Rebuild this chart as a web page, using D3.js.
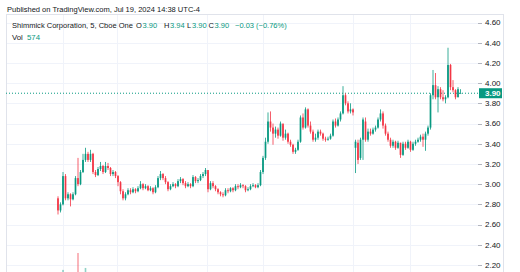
<!DOCTYPE html>
<html>
<head>
<meta charset="utf-8">
<script src="https://cdn.jsdelivr.net/npm/d3@7"></script>
<style>
  html, body { margin: 0; padding: 0; background: #fff; }
  svg { display: block; font-family: "Liberation Sans", Arial, sans-serif; }
</style>
</head>
<body>
<div id="chart"></div>
<script>
const W = 520, H = 272;
const UP = '#089981', DOWN = '#f23645';

// 5-minute OHLC bars
const opens = [
  2.86, 2.74, 2.80, 3.08, 2.86, 2.90, 2.85, 2.90, 3.06, 3.00,
  3.12, 3.24, 3.30, 3.24, 3.30, 3.12, 3.09, 3.15, 3.18, 3.12,
  3.18, 3.16, 3.10, 3.12, 3.08, 3.02, 2.93, 2.86, 2.90, 2.94,
  2.92, 2.95, 2.93, 2.96, 3.00, 2.96, 2.98, 2.94, 2.96, 2.92,
  2.97, 3.06, 3.10, 3.06, 3.02, 2.95, 2.98, 3.00, 2.98, 3.03,
  3.05, 3.01, 2.98, 3.00, 2.98, 3.07, 3.03, 3.04, 3.08, 3.10,
  3.14, 2.95, 3.01, 2.98, 2.95, 2.92, 2.90, 2.89, 2.94, 2.93,
  2.96, 2.94, 2.98, 2.97, 2.99, 2.98, 2.94, 2.95, 2.98, 2.99,
  2.97, 2.99, 3.12, 3.26, 3.42, 3.62, 3.56, 3.50, 3.54, 3.48,
  3.60, 3.46, 3.50, 3.42, 3.39, 3.32, 3.34, 3.42, 3.66, 3.56,
  3.74, 3.58, 3.52, 3.44, 3.46, 3.52, 3.50, 3.45, 3.44, 3.45,
  3.48, 3.62, 3.58, 3.64, 3.70, 3.88, 3.80, 3.72, 3.74, 3.36,
  3.41, 3.26, 3.44, 3.62, 3.44, 3.52, 3.50, 3.54, 3.56, 3.64,
  3.70, 3.58, 3.50, 3.44, 3.38, 3.42, 3.36, 3.41, 3.29, 3.40,
  3.36, 3.42, 3.34, 3.40, 3.42, 3.44, 3.47, 3.44, 3.50, 3.56,
  3.88, 3.98, 3.86, 3.94, 3.86, 3.84, 3.86, 4.18, 3.96, 3.93,
  3.86, 3.90
];
const highs = [
  2.88, 2.82, 3.12, 3.10, 2.92, 2.91, 2.92, 3.08, 3.26, 3.14,
  3.30, 3.36, 3.32, 3.34, 3.31, 3.14, 3.17, 3.22, 3.19, 3.22,
  3.21, 3.17, 3.14, 3.13, 3.09, 3.03, 2.95, 2.92, 2.96, 2.96,
  2.97, 2.96, 2.98, 3.03, 3.01, 3.00, 2.99, 2.98, 2.97, 2.99,
  3.08, 3.13, 3.11, 3.08, 3.03, 3.00, 3.02, 3.01, 3.05, 3.07,
  3.06, 3.03, 3.02, 3.01, 3.09, 3.08, 3.06, 3.10, 3.12, 3.16,
  3.12, 3.03, 3.03, 2.99, 2.96, 2.93, 2.92, 2.96, 2.96, 2.97,
  2.97, 3.00, 3.00, 3.01, 3.00, 2.99, 2.97, 3.00, 3.01, 3.00,
  3.01, 3.14, 3.28, 3.46, 3.71, 3.72, 3.60, 3.57, 3.56, 3.62,
  3.58, 3.54, 3.51, 3.44, 3.40, 3.36, 3.44, 3.68, 3.70, 3.76,
  3.75, 3.62, 3.54, 3.50, 3.54, 3.54, 3.51, 3.47, 3.47, 3.50,
  3.64, 3.65, 3.66, 3.72, 3.97, 3.90, 3.82, 3.80, 3.75, 3.44,
  3.44, 3.46, 3.66, 3.66, 3.55, 3.55, 3.56, 3.58, 3.66, 3.74,
  3.72, 3.60, 3.52, 3.46, 3.44, 3.43, 3.43, 3.41, 3.42, 3.42,
  3.44, 3.43, 3.42, 3.44, 3.46, 3.49, 3.50, 3.52, 3.58, 3.90,
  4.13, 4.10, 3.97, 3.96, 3.93, 3.88, 4.35, 4.19, 4.03, 3.94,
  3.96, 3.94
];
const lows = [
  2.70, 2.72, 2.79, 2.84, 2.84, 2.78, 2.84, 2.89, 2.98, 2.99,
  3.11, 3.22, 3.22, 3.22, 3.10, 3.07, 3.08, 3.13, 3.10, 3.11,
  3.14, 3.08, 3.08, 3.06, 2.98, 2.90, 2.84, 2.84, 2.89, 2.90,
  2.91, 2.91, 2.92, 2.95, 2.94, 2.95, 2.93, 2.93, 2.90, 2.91,
  2.96, 3.04, 3.04, 3.00, 2.93, 2.94, 2.97, 2.96, 2.97, 3.01,
  2.99, 2.96, 2.97, 2.96, 2.97, 3.01, 3.01, 3.03, 3.06, 3.08,
  2.92, 2.94, 2.96, 2.93, 2.90, 2.88, 2.87, 2.88, 2.91, 2.92,
  2.92, 2.93, 2.95, 2.96, 2.96, 2.92, 2.93, 2.94, 2.97, 2.96,
  2.96, 2.98, 3.10, 3.24, 3.40, 3.52, 3.39, 3.46, 3.45, 3.47,
  3.43, 3.44, 3.40, 3.37, 3.30, 3.30, 3.33, 3.41, 3.54, 3.55,
  3.56, 3.50, 3.42, 3.42, 3.44, 3.48, 3.43, 3.42, 3.43, 3.44,
  3.47, 3.56, 3.57, 3.62, 3.69, 3.78, 3.70, 3.70, 3.68, 3.11,
  3.20, 3.24, 3.24, 3.42, 3.42, 3.48, 3.49, 3.52, 3.55, 3.62,
  3.55, 3.48, 3.42, 3.36, 3.36, 3.34, 3.35, 3.26, 3.28, 3.34,
  3.35, 3.32, 3.33, 3.38, 3.41, 3.42, 3.37, 3.33, 3.48, 3.54,
  3.84, 3.84, 3.71, 3.84, 3.82, 3.80, 3.85, 3.93, 3.91, 3.84,
  3.86, 3.90
];
const closes = [
  2.74, 2.80, 3.08, 2.86, 2.90, 2.85, 2.90, 3.06, 3.00, 3.12,
  3.24, 3.30, 3.24, 3.30, 3.12, 3.09, 3.15, 3.18, 3.12, 3.18,
  3.16, 3.10, 3.12, 3.08, 3.02, 2.93, 2.86, 2.90, 2.94, 2.92,
  2.95, 2.93, 2.96, 3.00, 2.96, 2.98, 2.94, 2.96, 2.92, 2.97,
  3.06, 3.10, 3.06, 3.02, 2.95, 2.98, 3.00, 2.98, 3.03, 3.05,
  3.01, 2.98, 3.00, 2.98, 3.07, 3.03, 3.04, 3.08, 3.10, 3.14,
  2.95, 3.01, 2.98, 2.95, 2.92, 2.90, 2.89, 2.94, 2.93, 2.96,
  2.94, 2.98, 2.97, 2.99, 2.98, 2.94, 2.95, 2.98, 2.99, 2.97,
  2.99, 3.12, 3.26, 3.42, 3.62, 3.56, 3.50, 3.54, 3.48, 3.60,
  3.46, 3.50, 3.42, 3.39, 3.32, 3.34, 3.42, 3.66, 3.56, 3.74,
  3.58, 3.52, 3.44, 3.46, 3.52, 3.50, 3.45, 3.44, 3.45, 3.48,
  3.62, 3.58, 3.64, 3.70, 3.88, 3.80, 3.72, 3.74, 3.71, 3.42,
  3.24, 3.44, 3.64, 3.44, 3.52, 3.50, 3.54, 3.56, 3.64, 3.70,
  3.58, 3.50, 3.44, 3.38, 3.42, 3.36, 3.41, 3.29, 3.40, 3.36,
  3.42, 3.34, 3.40, 3.42, 3.44, 3.47, 3.44, 3.50, 3.56, 3.88,
  3.98, 3.86, 3.94, 3.86, 3.84, 3.86, 4.18, 3.96, 3.93, 3.86,
  3.94, 3.90
];
const volumes = [
  900, 700, 1700, 600, 500, 400, 500, 800, 3000, 600,
  900, 1850, 700, 500, 800, 400, 300, 400, 300, 300,
  200, 300, 200, 300, 400, 500, 400, 300, 200, 200,
  200, 150, 200, 300, 200, 150, 200, 150, 200, 200,
  300, 300, 200, 200, 300, 200, 150, 200, 200, 250,
  200, 150, 200, 150, 250, 200, 150, 200, 250, 300,
  400, 300, 200, 200, 300, 200, 150, 200, 150, 200,
  150, 200, 150, 150, 200, 150, 150, 200, 150, 200,
  200, 500, 700, 900, 1200, 800, 600, 500, 400, 500,
  400, 300, 400, 300, 400, 300, 400, 900, 600, 700,
  600, 400, 400, 300, 300, 200, 300, 200, 200, 300,
  500, 400, 400, 500, 1000, 700, 500, 300, 300, 1200,
  900, 700, 800, 600, 400, 300, 300, 300, 400, 500,
  400, 300, 300, 300, 200, 300, 200, 300, 300, 200,
  200, 200, 200, 200, 200, 300, 300, 300, 400, 1200,
  1100, 800, 600, 400, 300, 300, 1300, 800, 500, 400,
  300, 574
];

const priceTicks = [2.2, 2.4, 2.6, 2.8, 3.0, 3.2, 3.4, 3.6, 3.8, 4.0, 4.2, 4.4, 4.6];
const sessionBreaks = [2, 23.6, 59.6, 82, 118, 140.8]; // bar index of the vertical grid lines
const lastPrice = 3.90;
const prevClose = 3.93;

const svg = d3.select('#chart').append('svg')
  .attr('width', W).attr('height', H)
  .attr('viewBox', `0 0 ${W} ${H}`);

svg.append('rect').attr('width', W).attr('height', H).attr('fill', '#fff');

const plot = { left: 6, right: 478, top: 14, axisRight: 503 };

const x = d3.scaleLinear().domain([0, closes.length - 1]).range([58, 460.5]);
const y = d3.scaleLinear().domain([2.2, 4.6]).range([265, 22.5]);
const yVol = d3.scaleLinear().domain([0, 4000]).range([292, 240]);
const fmt = d3.format('.2f');

const bars = closes.map((c, i) => ({
  i, o: opens[i], h: highs[i], l: lows[i], c, v: volumes[i], up: c >= opens[i],
}));

// grid
const grid = svg.append('g').attr('shape-rendering', 'crispEdges');
grid.selectAll('line.h')
  .data(priceTicks)
  .join('line')
  .attr('class', 'h')
  .attr('x1', plot.left).attr('x2', plot.right)
  .attr('y1', (d) => Math.round(y(d)) + 0.5).attr('y2', (d) => Math.round(y(d)) + 0.5)
  .attr('stroke', '#f0f3fa');

grid.selectAll('line.v')
  .data(sessionBreaks)
  .join('line')
  .attr('class', 'v')
  .attr('x1', (d) => Math.round(x(d)) + 0.5).attr('x2', (d) => Math.round(x(d)) + 0.5)
  .attr('y1', plot.top).attr('y2', H)
  .attr('stroke', '#f0f3fa');

// frame
svg.append('path')
  .attr('d', `M${plot.left + 0.5},${H} V${plot.top + 0.5} H${plot.axisRight + 0.5} V${H}`)
  .attr('fill', 'none')
  .attr('stroke', '#e0e3eb')
  .attr('shape-rendering', 'crispEdges');

// volume overlay
svg.append('g')
  .selectAll('rect')
  .data(bars)
  .join('rect')
  .attr('x', (d) => x(d.i) - 0.8)
  .attr('width', 1.6)
  .attr('y', (d) => yVol(d.v))
  .attr('height', (d) => yVol(0) - yVol(d.v))
  .attr('fill', (d) => (d.up ? UP : DOWN))
  .attr('fill-opacity', 0.45);

// last price line
svg.append('line')
  .attr('x1', plot.left).attr('x2', plot.right)
  .attr('y1', y(lastPrice)).attr('y2', y(lastPrice))
  .attr('stroke', UP)
  .attr('stroke-width', 1)
  .attr('stroke-dasharray', '1,2');

// candles
const candles = svg.append('g');
candles.selectAll('line')
  .data(bars)
  .join('line')
  .attr('x1', (d) => x(d.i)).attr('x2', (d) => x(d.i))
  .attr('y1', (d) => y(d.h)).attr('y2', (d) => y(d.l))
  .attr('stroke', (d) => (d.up ? UP : DOWN))
  .attr('stroke-width', 0.8);

candles.selectAll('rect')
  .data(bars)
  .join('rect')
  .attr('x', (d) => x(d.i) - 0.85)
  .attr('width', 1.7)
  .attr('y', (d) => y(Math.max(d.o, d.c)))
  .attr('height', (d) => Math.max(0.8, Math.abs(y(d.o) - y(d.c))))
  .attr('fill', (d) => (d.up ? UP : DOWN));

// price axis
const axis = svg.append('g');
axis.selectAll('line')
  .data(priceTicks)
  .join('line')
  .attr('x1', plot.right).attr('x2', plot.right + 4)
  .attr('y1', (d) => Math.round(y(d)) + 0.5).attr('y2', (d) => Math.round(y(d)) + 0.5)
  .attr('stroke', '#b2b5be')
  .attr('shape-rendering', 'crispEdges');

axis.selectAll('text')
  .data(priceTicks)
  .join('text')
  .attr('x', 485)
  .attr('y', (d) => y(d))
  .attr('dy', '0.35em')
  .attr('font-size', 8)
  .attr('fill', '#131722')
  .text((d) => fmt(d));

// last price badge
svg.append('rect')
  .attr('x', plot.right + 1).attr('y', y(lastPrice) - 5)
  .attr('width', 23).attr('height', 10)
  .attr('fill', UP);
svg.append('text')
  .attr('x', 485).attr('y', y(lastPrice))
  .attr('dy', '0.35em')
  .attr('font-size', 8)
  .attr('font-weight', 'bold')
  .attr('fill', '#fff')
  .text(fmt(lastPrice));

// header and legend
svg.append('text')
  .attr('x', 7).attr('y', 11.5)
  .attr('font-size', 8)
  .attr('textLength', 193)
  .attr('lengthAdjust', 'spacingAndGlyphs')
  .attr('fill', '#131722')
  .text('Published on TradingView.com, Jul 19, 2024 14:38 UTC-4');

const last = bars[bars.length - 1];
const chg = last.c - prevClose;
const minus = (s) => s.replace('-', '\u2212');
const legendParts = [
  { t: 'O', at: 136, c: '#131722' }, { t: fmt(last.o), at: 142.5, c: UP },
  { t: 'H', at: 164, c: '#131722' }, { t: fmt(last.h), at: 170, c: UP },
  { t: 'L', at: 187, c: '#131722' }, { t: fmt(last.l), at: 192, c: UP },
  { t: 'C', at: 208.5, c: '#131722' }, { t: fmt(last.c), at: 214.5, c: UP },
  { t: minus(fmt(chg)) + ' (' + minus(fmt(chg / prevClose * 100)) + '%)', at: 235, c: UP },
];
svg.append('text')
  .attr('x', 12).attr('y', 28.3)
  .attr('font-size', 7.8)
  .attr('textLength', 121)
  .attr('lengthAdjust', 'spacingAndGlyphs')
  .attr('fill', '#131722')
  .text('Shimmick Corporation, 5, Cboe One');
svg.append('g')
  .selectAll('text')
  .data(legendParts)
  .join('text')
  .attr('x', (d) => d.at).attr('y', 28.3)
  .attr('font-size', 7.5)
  .attr('fill', (d) => d.c)
  .text((d) => d.t);

svg.append('text')
  .attr('x', 12).attr('y', 40)
  .attr('font-size', 7.8)
  .attr('fill', '#131722')
  .text('Vol');
svg.append('text')
  .attr('x', 27).attr('y', 40)
  .attr('font-size', 7.8)
  .attr('fill', UP)
  .text(volumes[volumes.length - 1]);
</script>
</body>
</html>
